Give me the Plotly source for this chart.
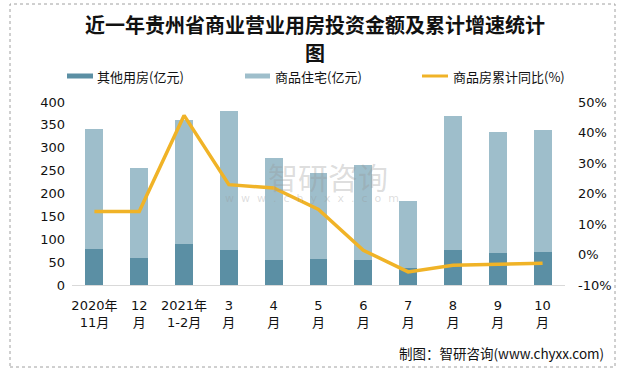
import plotly.graph_objects as go

categories = ["2020年<br>11月", "12<br>月", "2021年<br>1-2月", "3<br>月", "4<br>月", "5<br>月",
              "6<br>月", "7<br>月", "8<br>月", "9<br>月", "10<br>月"]
other_use = [79, 59, 90, 76, 55, 57, 55, 37, 76, 70, 72]
residential = [262, 197, 271, 304, 223, 188, 207, 147, 293, 264, 267]
growth_pct = [14.1, 14.1, 45.6, 22.9, 21.8, 14.8, 1.4, -5.7, -3.5, -3.2, -2.9]

left_ticks = [0, 50, 100, 150, 200, 250, 300, 350, 400]
right_ticks = [-10, 0, 10, 20, 30, 40, 50]
right_labels = [f"{v}%" for v in right_ticks]

names = ["其他用房(亿元)", "商品住宅(亿元)", "商品房累计同比(%)"]
colors = ["#5B8FA4", "#9EBECB", "#F0B327"]
title_line1 = "近一年贵州省商业营业用房投资金额及累计增速统计"
title_line2 = "图"

FONT = "DejaVu Sans, Noto Sans CJK SC, sans-serif"
CJK = "Noto Sans CJK SC"

L, R, T, B = 72, 57, 102, 84
W, H = 622, 369
PW, PH = W - L - R, H - T - B


def px(x):
    return (x - L) / PW


def py(y):
    return (H - B - y) / PH


fig = go.Figure()
fig.add_trace(go.Bar(x=categories, y=other_use, name=names[0], showlegend=False,
                     marker=dict(color=colors[0], line=dict(width=0))))
fig.add_trace(go.Bar(x=categories, y=residential, name=names[1], showlegend=False,
                     marker=dict(color=colors[1], line=dict(width=0))))
fig.add_trace(go.Scatter(x=categories, y=growth_pct, name=names[2], yaxis="y2", showlegend=False,
                         mode="lines", line=dict(color=colors[2], width=3.5)))

shapes = [
    dict(type="rect", xref="paper", yref="paper",
         x0=px(10), x1=px(615), y0=py(367), y1=py(4),
         line=dict(color="#A0A0A0", width=1, dash="dot"), fillcolor="rgba(0,0,0,0)", layer="above"),
    dict(type="rect", xref="paper", yref="paper", x0=px(67), x1=px(93), y0=py(78.5), y1=py(73.5),
         line=dict(width=0), fillcolor=colors[0]),
    dict(type="rect", xref="paper", yref="paper", x0=px(245), x1=px(270), y0=py(78.5), y1=py(73.5),
         line=dict(width=0), fillcolor=colors[1]),
    dict(type="line", xref="paper", yref="paper", x0=px(422), x1=px(448), y0=py(76), y1=py(76),
         line=dict(color=colors[2], width=3)),
]

annotations = [
    dict(text="<b>" + title_line1 + "</b>", xref="paper", yref="paper", x=px(315), y=py(24),
         xanchor="center", yanchor="middle", showarrow=False,
         font=dict(family=CJK, size=20, color="#111111")),
    dict(text="<b>" + title_line2 + "</b>", xref="paper", yref="paper", x=px(315), y=py(53),
         xanchor="center", yanchor="middle", showarrow=False,
         font=dict(family=CJK, size=20, color="#111111")),
    dict(text=names[0], xref="paper", yref="paper", x=px(95), y=py(76), xanchor="left",
         yanchor="middle", showarrow=False, font=dict(family=CJK, size=13, color="#111111")),
    dict(text=names[1], xref="paper", yref="paper", x=px(273), y=py(76), xanchor="left",
         yanchor="middle", showarrow=False, font=dict(family=CJK, size=13, color="#111111")),
    dict(text=names[2], xref="paper", yref="paper", x=px(451), y=py(76), xanchor="left",
         yanchor="middle", showarrow=False, font=dict(family=CJK, size=13, color="#111111")),
    dict(text="制图：智研咨询(www.chyxx.com)", xref="paper", yref="paper",
         x=px(606), y=py(353), xanchor="right", yanchor="middle",
         showarrow=False, font=dict(family=CJK, size=13.5, color="#111111")),
    dict(text="智研咨询", xref="paper", yref="paper",
         x=px(328), y=py(176), xanchor="center", yanchor="middle",
         showarrow=False, font=dict(family=CJK, size=30, color="rgba(150,150,150,0.33)")),
    dict(text="w  w  w  .  c  h  y  x  x  .  c  o  m", xref="paper", yref="paper",
         x=px(312), y=py(198), xanchor="center", yanchor="middle",
         showarrow=False, font=dict(family="DejaVu Sans", size=11, color="rgba(150,150,150,0.33)")),
]

fig.update_layout(
    width=W, height=H,
    margin=dict(l=L, r=R, t=T, b=B, autoexpand=False),
    paper_bgcolor="white", plot_bgcolor="white",
    barmode="stack", bargap=0.6,
    showlegend=False,
    font=dict(family=FONT, size=13, color="#111111"),
    xaxis=dict(showline=True, linecolor="#D9D9D9", linewidth=1, showgrid=False, automargin=False,
               ticks="", ticklabelstandoff=8,
               tickfont=dict(family="DejaVu Sans, Noto Sans CJK SC", size=13)),
    yaxis=dict(range=[0, 400], tickvals=left_ticks, showgrid=False, zeroline=False, automargin=False,
               showline=False, ticks="", ticklabelstandoff=6, tickfont=dict(size=13)),
    yaxis2=dict(range=[-10, 50], tickvals=right_ticks, ticktext=right_labels, overlaying="y",
                side="right", showgrid=False, zeroline=False, showline=False, ticks="",
                ticklabelstandoff=12, automargin=False, tickfont=dict(size=13)),
    shapes=shapes,
    annotations=annotations,
)

fig.write_html("out.html", config={"displayModeBar": False},
               post_script="document.body.style.margin='0';")
